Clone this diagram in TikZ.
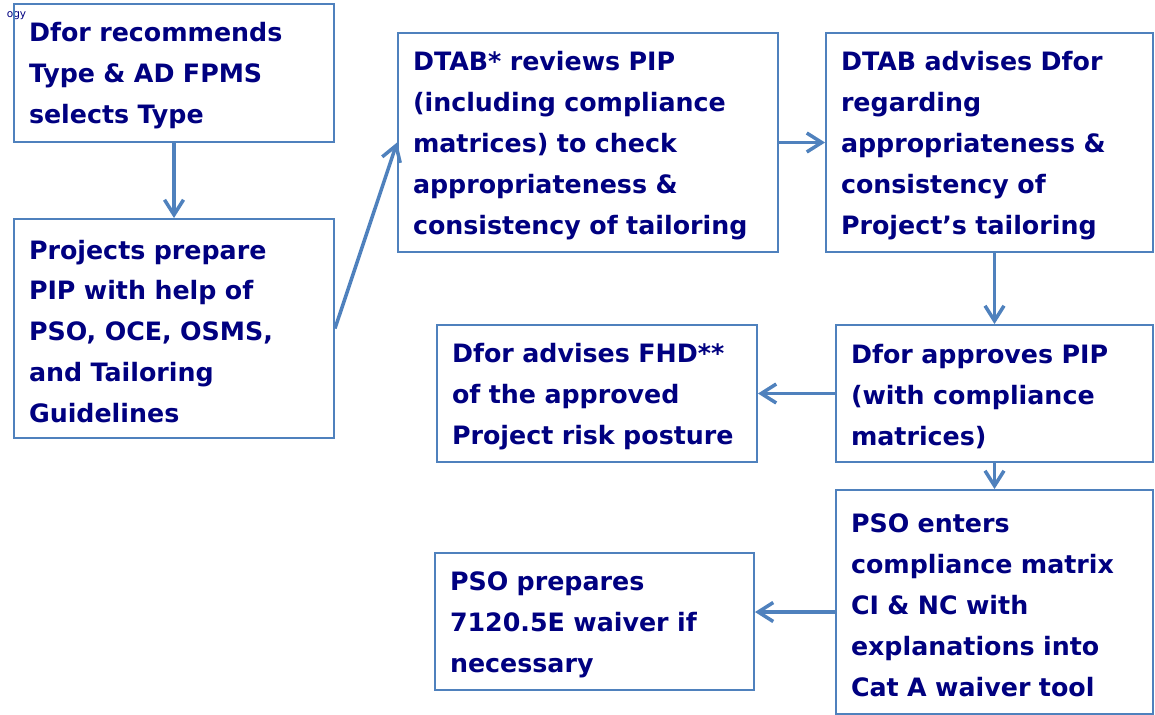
\documentclass[tikz,border=0pt]{standalone}
\usepackage{fontspec}
\setmainfont{DejaVu Sans}
\usetikzlibrary{positioning,arrows.meta}
\definecolor{boxline}{HTML}{4F81BD}
\definecolor{ink}{HTML}{000080}

\begin{document}
\begin{tikzpicture}[
  box/.style={rectangle, draw=boxline, line width=1.1pt, text=ink, font=\fontsize{14.4}{23.3}\selectfont\bfseries, align=left, inner xsep=0.3cm, inner ysep=0pt, execute at end node={\endgraf\vspace*{-0.12cm}}},
  arrow/.style={-{Straight Barb[length=3mm, width=3.8mm]}, draw=boxline, line width=2pt}
]
\useasboundingbox (0,0) rectangle (23.1,-14.28);

\node[anchor=west, inner sep=0pt, text=ink, font=\fontsize{6}{7}\selectfont] (tag) at (0.13,-0.32) {ogy};

\node[box, text width=5.8cm, minimum height=2.76cm] (recommend) at (3.48,-1.46) {Dfor recommends\\Type \& AD FPMS\\selects Type};
\node[box, text width=5.8cm, minimum height=4.38cm] (prepare) at (3.48,-6.57) {Projects prepare\\PIP with help of\\PSO, OCE, OSMS,\\and Tailoring\\Guidelines};
\node[box, text width=7.0cm, minimum height=4.38cm] (review) at (11.76,-2.85) {DTAB* reviews PIP\\(including compliance\\matrices) to check\\appropriateness \&\\consistency of tailoring};
\node[box, text width=5.94cm, minimum height=4.38cm] (advise) at (19.79,-2.85) {DTAB advises Dfor\\regarding\\appropriateness \&\\consistency of\\Project’s tailoring};
\node[box, text width=5.74cm, minimum height=2.74cm] (approve) at (19.89,-7.87) {Dfor approves PIP\\(with compliance\\matrices)};
\node[box, text width=5.8cm, minimum height=2.74cm] (posture) at (11.94,-7.87) {Dfor advises FHD**\\of the approved\\Project risk posture};
\node[box, text width=5.74cm, minimum height=4.48cm] (enter) at (19.89,-12.04) {PSO enters\\compliance matrix\\CI \& NC with\\explanations into\\Cat A waiver tool};
\node[box, text width=5.78cm, minimum height=2.74cm] (waiver) at (11.89,-12.43) {PSO prepares\\7120.5E waiver if\\necessary};

\draw[arrow] (recommend) -- (prepare);
\draw[arrow] (prepare.east) -- (review.west);
\draw[arrow] (review) -- (advise);
\draw[arrow] (advise.south -| approve.north) -- (approve.north);
\draw[arrow] (approve) -- (posture);
\draw[arrow] (approve) -- (enter);
\draw[arrow] ([yshift=-0.2cm]enter.west) -- ([yshift=-0.2cm]enter.west -| waiver.east);
\end{tikzpicture}
\end{document}
